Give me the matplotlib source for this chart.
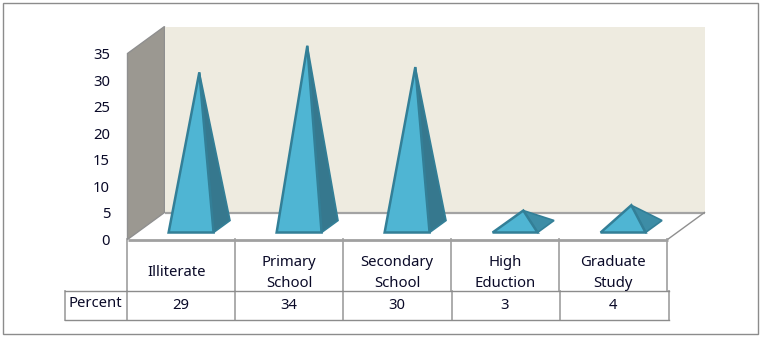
import matplotlib
matplotlib.use("Agg")
import matplotlib.pyplot as plt
from matplotlib.patches import Polygon, Rectangle

categories = ["Illiterate", "Primary\nSchool", "Secondary\nSchool", "High\nEduction", "Graduate\nStudy"]
percent = [29, 34, 30, 3, 4]
yticks = [0, 5, 10, 15, 20, 25, 30, 35]

W, H = 762, 337
# depth of the 3d box, in data units
DX = 37 / 108
DY = 27 / (186 / 35)
TXT = "#0a0a28"

plt.rcParams['font.family'] = ['Noto Sans', 'DejaVu Sans']
fig = plt.figure(figsize=(W / 100, H / 100), dpi=100)

# overlay in pixels for the frame and the table grid
bg = fig.add_axes([0, 0, 1, 1])
bg.set_xlim(0, W)
bg.set_ylim(H, 0)
bg.axis("off")
bg.add_patch(Rectangle((3, 2.5), 755, 331.5, fc="white", ec="#8c8c8c", lw=1))

ax = fig.add_axes([127.5 / W, 1 - 239.5 / H, 540 / W, 186 / H])
ax.patch.set_alpha(0)
ax.set_xlim(0, 5)
ax.set_ylim(0, 35)
for s in ax.spines.values():
    s.set_visible(False)
ax.set_xticks([])
ax.set_yticks(yticks)
ax.tick_params(axis="y", length=0, pad=12.5, labelsize=10.7, labelcolor=TXT)

# box: side wall, back wall, floor edge
ax.add_patch(Polygon([(0, 0), (DX, DY), (DX, 35 + DY), (0, 35)], fc="#9b9891", ec="#8f8f8f", lw=1, clip_on=False))
ax.add_patch(Polygon([(DX, DY), (5 + DX, DY), (5 + DX, 35 + DY), (DX, 35 + DY)], fc="#eeebe0", ec="none", clip_on=False))
ax.plot([DX, 5 + DX], [DY, DY], color="#a3a3a3", lw=1.6, clip_on=False, solid_capstyle="butt")
ax.plot([5, 5 + DX], [0, DY], color="#8f8f8f", lw=1, clip_on=False)
ax.plot([0, 5], [0, 0], color="#a0a0a0", lw=2, clip_on=False, solid_capstyle="butt")

# pyramids
hw = 0.208
d1, d2 = 7 / 27, 19 / 27
dm = (d1 + d2) / 2
for i, v in enumerate(percent):
    c = i + 0.5
    fl = (c - hw + d1 * DX, d1 * DY)
    fr = (c + hw + d1 * DX, d1 * DY)
    br = (c + hw + d2 * DX, d2 * DY)
    apex = (c + dm * DX, dm * DY + v)
    side = "#36788e" if v > 10 else "#3d8da6"
    ax.add_patch(Polygon([apex, fr, br], fc=side, ec="#337f97", lw=1.2, joinstyle="miter", clip_on=False, zorder=3))
    ax.add_patch(Polygon([apex, fl, fr], fc="#4fb5d3", ec="#337f97", lw=1.8, joinstyle="miter", clip_on=False, zorder=4))

# table
col_x = [127, 235, 343, 451, 559, 667]
row_x = [64.5, 127, 235, 343, 452, 560, 668.5]
grid = "#a6a6a6"
for x in col_x:
    bg.plot([x, x], [239, 291], color=grid, lw=1.3)
for x in row_x:
    bg.plot([x, x], [291, 320], color=grid, lw=1.3)
bg.plot([64.5, 668.5], [290.5, 290.5], color="#8c8c8c", lw=1)
bg.plot([64.5, 668.5], [320, 320], color="#8c8c8c", lw=1)

bg.text(95.5, 303.5, "Percent", ha="center", va="center", fontsize=10.7, color=TXT)
for i, (name, v) in enumerate(zip(categories, percent)):
    cx = 181 + 108 * i
    if "\n" in name:
        a, b = name.split("\n")
        bg.text(cx, 262.5, a, ha="center", va="center", fontsize=10.7, color=TXT)
        bg.text(cx, 283.5, b, ha="center", va="center", fontsize=10.7, color=TXT)
    else:
        bg.text(cx - 4, 272.5, name, ha="center", va="center", fontsize=10.7, color=TXT)
    bg.text(cx, 305.5, str(v), ha="center", va="center", fontsize=10.7, color=TXT)

fig.savefig("out.png", dpi=100)
